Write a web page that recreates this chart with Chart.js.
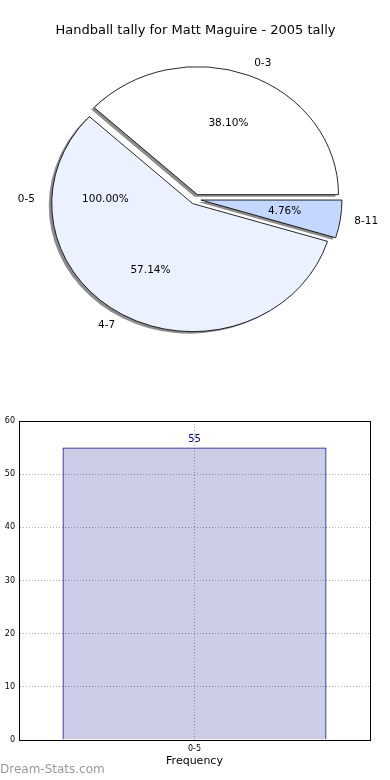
<!DOCTYPE html>
<html>
<head>
<meta charset="utf-8">
<script src="https://cdn.jsdelivr.net/npm/chart.js@4.4.0/dist/chart.umd.min.js"></script>
<style>
body { margin: 0; background: #fff; width: 390px; height: 780px; overflow: hidden; position: relative; font-family: "DejaVu Sans", sans-serif; }
#tarta { position: absolute; left: 0; top: 0; }
#barras { position: absolute; left: 0; top: 380px; }
#marca { position: absolute; left: 0; top: 762px; color: #999; font-size: 12px; }
</style>
</head>
<body>
<canvas id="tarta" width="390" height="380"></canvas>
<canvas id="barras" width="390" height="400"></canvas>
<div id="marca">Dream-Stats.com</div>
<script>
// datos de la tarta (orden de matplotlib, antihorario desde las 3)
const tartaEtiquetas = ["0-3", "4-7", "8-11"];
const tartaValores = [8, 12, 1];
const tartaColores = ["#ffffff", "#ebf1fe", "#c4d7fe"];
// la tarta "fantasma" de 100% que aparece en la imagen
const extraEtiquetas = ["0-5"];
const extraValores = [55];

// datos de las barras
const barEtiquetas = ["0-5"];
const barValores = [55];

const titulo = "Handball tally for Matt Maguire - 2005 tally";
const radio = 128;
const escalaX = 141 / radio;   // la tarta sale ovalada
const desplaz = 5;             // cuanto se separa cada trozo del centro

Chart.defaults.font.family = '"DejaVu Sans", sans-serif';
Chart.defaults.color = "#000";

function porcentaje(v, lista) {
  const total = lista.reduce((a, b) => a + b, 0);
  return (v / total * 100).toFixed(2) + "%";
}

// dibuja los trozos a mano: ovalados, separados y con sombra
const elipse = {
  id: "elipse",
  beforeDatasetDraw(chart, args) {
    const ctx = chart.ctx;
    const arcs = args.meta.data;
    const cx = arcs[0].x, cy = arcs[0].y;
    ctx.save();
    ctx.translate(cx, cy);
    ctx.scale(escalaX, 1);
    ctx.translate(-cx, -cy);

    ctx.save();
    ctx.translate(-3 / escalaX, 2);
    ctx.fillStyle = "rgba(0,0,0,0.45)";
    arcs.forEach(a => {
      const mid = (a.startAngle + a.endAngle) / 2;
      const ox = a.x + Math.cos(mid) * desplaz, oy = a.y + Math.sin(mid) * desplaz;
      ctx.beginPath();
      ctx.moveTo(ox, oy);
      ctx.arc(ox, oy, a.outerRadius, a.startAngle, a.endAngle);
      ctx.closePath();
      ctx.fill();
    });
    ctx.restore();

    arcs.forEach(a => {
      const mid = (a.startAngle + a.endAngle) / 2;
      ctx.save();
      ctx.translate(Math.cos(mid) * desplaz, Math.sin(mid) * desplaz);
      a.draw(ctx);
      ctx.restore();
    });
    ctx.restore();
    return false;
  },
  afterDatasetsDraw(chart) {
    const ctx = chart.ctx;
    const arcs = chart.getDatasetMeta(0).data;
    const cx = arcs[0].x, cy = arcs[0].y, R = arcs[0].outerRadius;
    const etiquetas = chart.data.labels;
    const valores = chart.data.datasets[0].data;

    function poner(mid, etq, pct) {
      const c = Math.cos(mid), s = Math.sin(mid);
      ctx.fillStyle = "#000";
      ctx.font = '10.5px "DejaVu Sans"';
      ctx.textBaseline = "middle";
      const r1 = 1.1 * R + desplaz;
      ctx.textAlign = c > 0.01 ? "left" : (c < -0.01 ? "right" : "center");
      ctx.fillText(etq, cx + escalaX * r1 * c, cy + r1 * s);
      const r2 = 0.6 * R + desplaz;
      ctx.textAlign = "center";
      ctx.fillText(pct, cx + escalaX * r2 * c, cy + r2 * s);
    }

    ctx.save();
    arcs.forEach((a, i) => {
      poner((a.startAngle + a.endAngle) / 2, etiquetas[i], porcentaje(valores[i], valores));
    });
    // tarta extra: un solo trozo del 100% empezando a las 3
    let ini = 0;
    const totalExtra = extraValores.reduce((a, b) => a + b, 0);
    extraValores.forEach((v, i) => {
      const ang = v / totalExtra * Math.PI * 2;
      poner(ini + ang / 2, extraEtiquetas[i], porcentaje(v, extraValores));
      ini += ang;
    });
    ctx.restore();
  }
};

// chart.js va en sentido horario, asi que se invierte el orden
new Chart(document.getElementById("tarta"), {
  type: "pie",
  data: {
    labels: tartaEtiquetas.slice().reverse(),
    datasets: [{
      data: tartaValores.slice().reverse(),
      backgroundColor: tartaColores.slice().reverse(),
      borderColor: "#000",
      borderWidth: 0.8,
      offset: 0
    }]
  },
  options: {
    responsive: false,
    animation: false,
    events: [],
    rotation: 90,
    radius: radio,
    layout: { padding: { left: 1, right: 0, top: 0, bottom: 20 } },
    plugins: {
      legend: { display: false },
      tooltip: { enabled: false },
      title: {
        display: true,
        text: titulo,
        color: "#000",
        font: { size: 13, weight: "normal" },
        padding: { top: 23, bottom: 0 }
      }
    }
  },
  plugins: [elipse]
});

const rotulo = {
  id: "rotulo",
  afterDatasetsDraw(chart) {
    const ctx = chart.ctx;
    ctx.save();
    ctx.fillStyle = "#000080";
    ctx.font = '10px "DejaVu Sans"';
    ctx.textAlign = "center";
    ctx.textBaseline = "bottom";
    chart.getDatasetMeta(0).data.forEach((b, i) => {
      ctx.fillText(barValores[i], b.x, b.y - 3);
    });
    ctx.restore();
  },
  afterDraw(chart) {
    const a = chart.chartArea, ctx = chart.ctx;
    ctx.save();
    ctx.strokeStyle = "#000";
    ctx.lineWidth = 1;
    ctx.strokeRect(Math.round(a.left) + 0.5, Math.round(a.top) + 0.5, Math.round(a.right - a.left), Math.round(a.bottom - a.top));
    ctx.restore();
  }
};

new Chart(document.getElementById("barras"), {
  type: "bar",
  data: {
    labels: barEtiquetas,
    datasets: [{
      data: barValores,
      backgroundColor: "rgba(0,0,128,0.2)",
      borderColor: "#000080",
      borderWidth: 1,
      barPercentage: 0.752,
      categoryPercentage: 1
    }]
  },
  options: {
    responsive: false,
    animation: false,
    events: [],
    layout: { padding: { left: 0, right: 20, top: 41, bottom: 0 } },
    plugins: { legend: { display: false }, tooltip: { enabled: false } },
    scales: {
      x: {
        grid: { offset: false, color: "#aaa", drawTicks: false },
        border: { color: "#000", dash: [1, 2] },
        ticks: { font: { size: 8 }, padding: 4, color: "#000" },
        title: { display: true, text: "Frequency", font: { size: 11 }, color: "#000", padding: { top: 0, bottom: 12 } },
        afterFit(s) { s.height = 40; }
      },
      y: {
        min: 0,
        max: 60,
        ticks: { stepSize: 10, font: { size: 8 }, padding: 4, color: "#000" },
        grid: { color: "#aaa", drawTicks: false },
        border: { color: "#000", dash: [1, 2] },
        afterFit(s) { s.width = 19; }
      }
    }
  },
  plugins: [rotulo]
});
</script>
</body>
</html>
